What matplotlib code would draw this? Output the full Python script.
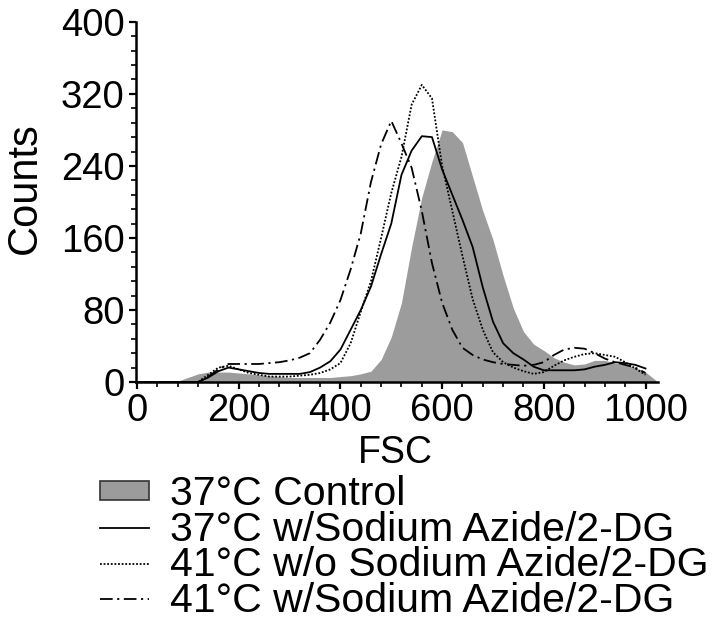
import numpy as np
import matplotlib
matplotlib.use('Agg')
import matplotlib.pyplot as plt
from matplotlib.patches import Patch
from matplotlib.lines import Line2D
from matplotlib.ticker import MultipleLocator

# FSC channel positions (x grid)
fsc = [0, 20, 40, 60, 80, 100, 120, 140, 160, 180,
       200, 220, 240, 260, 280, 300, 320, 340, 360, 380,
       400, 420, 440, 460, 480, 500, 520, 540, 560, 580,
       600, 620, 640, 660, 680, 700, 720, 740, 760, 780,
       800, 820, 840, 860, 880, 900, 920, 940, 960, 980,
       1000, 1020]

# 37°C Control (gray filled histogram)
control = [0, 0, 0, 0, 1, 5, 9, 11, 11, 11,
           10, 9, 8, 7, 6, 5, 5, 5, 5, 5,
           6, 7, 9, 12, 25, 50, 88, 150, 205, 245,
           280, 278, 266, 228, 190, 158, 118, 82, 56, 42,
           35, 27, 22, 19, 20, 24, 24, 21, 19, 16,
           11, 2]

# 37°C w/Sodium Azide/2-DG (solid)
solid_37_azide = [0, 0, 0, 0, 0, 0, 0, 5, 12, 16,
                  14, 12, 10, 9, 9, 9, 9, 11, 16, 23,
                  36, 58, 80, 106, 142, 176, 230, 257, 273, 272,
                  236, 208, 180, 150, 105, 67, 43, 32, 25, 17,
                  13, 13, 13, 13, 14, 17, 19, 22, 21, 19,
                  15, np.nan]

# 41°C w/o Sodium Azide/2-DG (dotted)
dotted_41_no_azide = [0, 0, 0, 0, 0, 0, 0, 8, 16, 18,
                      14, 10, 8, 6, 6, 6, 7, 8, 10, 14,
                      21, 43, 78, 112, 160, 210, 250, 308, 330, 315,
                      240, 190, 140, 92, 58, 33, 22, 16, 12, 9,
                      11, 18, 24, 28, 31, 32, 30, 28, 22, 15,
                      8, np.nan]

# 41°C w/Sodium Azide/2-DG (dash-dot)
dashdot_41_azide = [0, 0, 0, 0, 0, 0, 0, 6, 14, 20,
                    20, 20, 20, 21, 22, 24, 27, 32, 47, 66,
                    91, 125, 165, 222, 264, 290, 265, 238, 190, 132,
                    88, 58, 38, 30, 25, 22, 20, 19, 18, 19,
                    22, 30, 36, 38, 37, 32, 26, 22, 19, 16,
                    10, np.nan]

labels = ['37°C Control', '37°C w/Sodium Azide/2-DG',
          '41°C w/o Sodium Azide/2-DG', '41°C w/Sodium Azide/2-DG']
xticks = [0, 200, 400, 600, 800, 1000]
yticks = [0, 80, 160, 240, 320, 400]

plt.rcParams['font.family'] = ['Liberation Sans', 'DejaVu Sans']

fig = plt.figure(figsize=(7.22, 6.34), dpi=100)
fig.patch.set_facecolor('white')
ax = fig.add_axes([0.188, 0.3975, 0.7234, 0.568])

gray = '#9c9c9c'
ax.fill_between(fsc, control, 0, color=gray, lw=0, zorder=1)
ax.plot(fsc, solid_37_azide, color='black', lw=1.3, zorder=3)
ax.plot(fsc, dotted_41_no_azide, color='black', lw=1.3, ls=(0, (1, 1)), zorder=3)
ax.plot(fsc, dashdot_41_azide, color='black', lw=1.3, ls=(0, (7, 2.5, 1.2, 2.5)), zorder=3)

ax.set_xlim(-2.6, 1024.6)
ax.set_ylim(0, 400)
ax.set_xticks(xticks)
ax.set_yticks(yticks)
ax.xaxis.set_minor_locator(MultipleLocator(40))
ax.yaxis.set_minor_locator(MultipleLocator(16))
for s in ['top', 'right']:
    ax.spines[s].set_visible(False)
for s in ['left', 'bottom']:
    ax.spines[s].set_linewidth(1.8)
ax.tick_params(which='major', direction='out', length=5, width=1.6,
               labelsize=27.5, pad=3)
ax.tick_params(which='minor', direction='out', length=3.5, width=1.2)

fig.text(25 / 722, 1 - 188 / 634, 'Counts', rotation=90, fontsize=30,
         ha='center', va='center')
fig.text(395 / 722, 1 - 463 / 634, 'FSC', fontsize=27, ha='center', va='baseline')

handles = [Patch(facecolor=gray, edgecolor='#333333', lw=1.2),
           Line2D([], [], color='black', lw=1.3),
           Line2D([], [], color='black', lw=1.3, ls=(0, (1, 1))),
           Line2D([], [], color='black', lw=1.3, ls=(0, (7, 2.5, 1.2, 2.5)))]
fig.legend(handles, labels, loc='upper left',
           bbox_to_anchor=(100 / 722, 1 - 475 / 634),
           frameon=False, fontsize=29.5, handlelength=1.2, handleheight=0.35,
           handletextpad=0.5, labelspacing=-0.06, borderaxespad=0, borderpad=0)

fig.savefig('out.png', dpi=100, facecolor='white')
